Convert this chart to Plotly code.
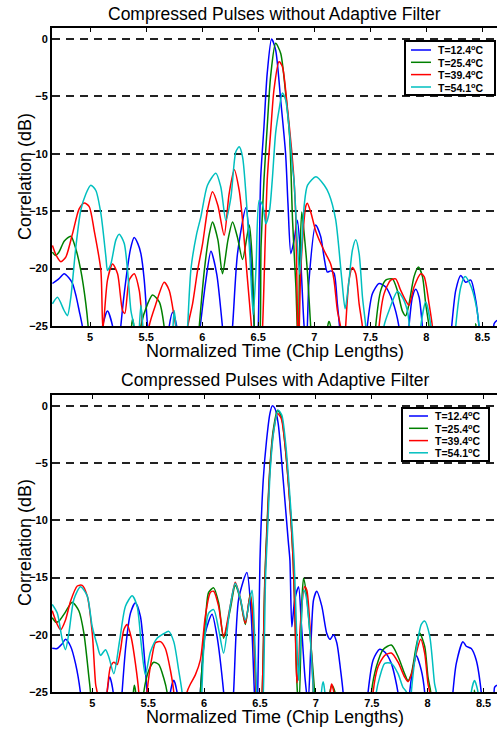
import plotly.graph_objects as go

# legend labels and line colours
labels = ['T=12.4<sup>o</sup>C', 'T=25.4<sup>o</sup>C', 'T=39.4<sup>o</sup>C', 'T=54.1<sup>o</sup>C']
colors = ['#0000ff', '#008000', '#ff0000', '#00bfbf']

x_ticks = [5, 5.5, 6, 6.5, 7, 7.5, 8, 8.5]
y_ticks = [0, -5, -10, -15, -20, -25]

# ---- without adaptive filter (top) ----
top_x_124 = [4.664, 4.72, 4.768, 4.81, 4.843, 4.875, 4.902, 4.932, 4.96,
             5.08, 5.111, 5.155, 5.20, 5.23,
             5.25, 5.274, 5.319, 5.36, 5.393, 5.425, 5.453, 5.483, 5.513, 5.54,
             5.68, 5.706, 5.736, 5.774, 5.80,
             5.95, 5.983, 6.033, 6.078, 6.13, 6.181, 6.21,
             6.24, 6.271, 6.315, 6.39, 6.43, 6.464, 6.48,
             6.50, 6.521, 6.551, 6.58, 6.619, 6.655, 6.70, 6.744, 6.765, 6.791, 6.82, 6.849, 6.875, 6.91, 6.93,
             6.953, 7.012, 7.057, 7.087, 7.116, 7.146, 7.176, 7.206, 7.226, 7.25,
             7.45, 7.473, 7.518, 7.578, 7.637, 7.697, 7.756, 7.78,
             7.82, 7.845, 7.875, 7.905, 7.935, 7.965, 7.99,
             8.20, 8.226, 8.262, 8.307, 8.351, 8.396, 8.441, 8.47, 8.50,
             8.58, 8.604, 8.63]
top_db_124 = [-21.3, -20.9, -20.45, -20.8, -21.3, -22.4, -23.65, -25.1, -28,
              -28, -25.0, -23.7, -25.0, -28,
              -28, -25, -21.0, -18.3, -17.3, -17.8, -18.7, -21.0, -25.1, -28,
              -28, -25, -23.8, -25.1, -28,
              -28, -25, -21.0, -18.5, -20.5, -25.1, -28,
              -28, -25, -18.7, -14.7, -18.5, -25.1, -28,
              -25, -12.3, -7.65, -3.0, 0, -0.96, -5.3, -10, -14.3, -18.7, -17.5, -15.8, -18.5, -25.1, -26.5,
              -21.0, -16.2, -17.2, -19.0, -20.3, -20.2, -20.4, -23.1, -25.1, -28,
              -28, -25, -22.2, -21.3, -21.6, -22.8, -25.1, -28,
              -28, -25, -22.5, -21.8, -22.5, -25.1, -28,
              -28, -25, -21.9, -20.6, -21.2, -21.0, -22.8, -25.1, -28,
              -28, -24.8, -24.5]

top_x_254 = [4.664, 4.69, 4.72, 4.77, 4.828, 4.87, 4.917, 4.962, 4.983, 5.0,
             5.36, 5.37, 5.379, 5.39, 5.40,
             5.43, 5.453, 5.513, 5.557, 5.617, 5.661, 5.68,
             5.95, 5.974, 6.019, 6.063, 6.092, 6.14, 6.181, 6.23, 6.271, 6.315, 6.36, 6.42, 6.445, 6.465, 6.48,
             6.50, 6.525, 6.551, 6.58, 6.61, 6.655, 6.70, 6.744, 6.78, 6.806, 6.836, 6.848, 6.858,
             6.868, 6.888, 6.91, 6.938, 6.968, 6.99,
             7.11, 7.12, 7.131, 7.145, 7.16,
             7.53, 7.548, 7.593, 7.637, 7.697, 7.741, 7.786, 7.816, 7.845, 7.89, 7.929, 7.965, 7.994, 8.024, 8.04,
             8.43, 8.441, 8.455]
top_db_254 = [-18.56, -18.85, -18.6, -17.6, -17.19, -18.2, -20.16, -23.07, -25.1, -28,
              -28, -25, -24.4, -25, -28,
              -28, -25, -23.07, -22.3, -22.9, -25.1, -28,
              -28, -25, -20.16, -17.0, -15.94, -17.5, -20.45, -17.5, -15.94, -17.3, -19.2, -16.2, -19, -25.1, -28,
              -28, -18, -12.3, -7.65, -3.3, -0.38, -1.25, -4.7, -8.5, -15.8, -21.6, -25, -26,
              -20, -15.07, -17, -20.2, -25.1, -28,
              -28, -25, -24.6, -25, -28,
              -28, -25, -21.9, -21.0, -20.9, -21.9, -23.7, -24.1, -23.07, -20.7, -19.87, -20.7, -23.07, -25.1, -28,
              -28, -24.8, -28]

top_x_394 = [4.664, 4.70, 4.739, 4.783, 4.843, 4.902, 4.947, 4.992, 5.036, 5.096, 5.114,
             5.155, 5.2, 5.245, 5.289, 5.31, 5.349, 5.393, 5.438, 5.468, 5.49,
             5.51, 5.527, 5.587, 5.661, 5.706, 5.75, 5.765, 5.78,
             5.85, 5.87, 5.914, 5.959, 6.004, 6.048, 6.092, 6.14, 6.196, 6.24, 6.286, 6.33, 6.36, 6.40, 6.44, 6.46,
             6.52, 6.539, 6.58, 6.61, 6.64, 6.685, 6.715, 6.759, 6.798, 6.819, 6.836, 6.851, 6.86,
             6.88, 6.926, 6.938, 6.968, 7.012, 7.057, 7.101, 7.146, 7.176, 7.206, 7.235, 7.255,
             7.26, 7.28, 7.31, 7.34, 7.37, 7.40, 7.43, 7.45,
             7.56, 7.578, 7.622, 7.682, 7.726, 7.771, 7.816, 7.845, 7.89, 7.95, 7.98, 8.024, 8.054, 8.07]
top_db_394 = [-17.98, -18.9, -19.4, -19.0, -16.96, -14.8, -14.28, -14.6, -16.67, -20.16, -25.3,
              -21.0, -19.6, -20.45, -23.65, -23.9, -21.0, -20.45, -21.9, -25.1, -28,
              -28, -25, -23.07, -21.2, -21.9, -24.2, -25.1, -28,
              -28, -25.1, -23.07, -20.16, -17.8, -14.9, -13.3, -14.5, -17.1, -13.5, -11.4, -13.2, -15.8, -20.5, -25.1, -28,
              -28, -25, -12.3, -8.2, -4.45, -1.98, -2.4, -5.9, -9.7, -12.3, -15.8, -25.1, -27,
              -20, -14.5, -14.3, -15.07, -16.7, -17.8, -18.7, -19.6, -21.0, -23.65, -25.1, -28,
              -28, -25, -21.0, -19.9, -20.45, -23.07, -25.1, -28,
              -28, -25, -22.2, -21.0, -20.9, -21.9, -22.8, -23.2, -21.6, -20.45, -20.7, -23.07, -25.1, -28]

top_x_541 = [4.664, 4.709, 4.768, 4.798, 4.828, 4.873, 4.917, 4.962, 5.006, 5.051, 5.096, 5.141, 5.155, 5.185,
             5.23, 5.26, 5.304, 5.334, 5.364, 5.393, 5.41,
             5.43, 5.44, 5.453, 5.47, 5.48,
             5.73, 5.74, 5.75, 5.765, 5.78,
             5.85, 5.87, 5.90, 5.95, 5.988, 6.047, 6.122, 6.166, 6.211, 6.256, 6.3, 6.33, 6.36, 6.42, 6.455, 6.48,
             6.509, 6.54, 6.568, 6.60, 6.625, 6.655, 6.685, 6.715, 6.744, 6.774, 6.804, 6.819, 6.85, 6.87,
             6.91, 6.94, 7.015, 7.089, 7.131, 7.19, 7.245, 7.275, 7.31, 7.34, 7.37, 7.40, 7.43, 7.46, 7.48,
             7.60, 7.622, 7.667, 7.741, 7.786, 7.83, 7.85, 7.87,
             7.93, 7.95, 7.994, 8.04, 8.06,
             8.24, 8.262, 8.307, 8.345, 8.396, 8.441, 8.47, 8.49]
top_db_541 = [-23.07, -22.5, -23.65, -24.1, -22.5, -18.1, -14.9, -13.5, -12.74, -13.2, -15.2, -19.0, -20.16, -19.6,
              -17.5, -17.0, -17.8, -20.16, -23.65, -25.1, -28,
              -28, -25, -23.2, -25, -28,
              -28, -25, -23.65, -25, -28,
              -28, -25, -20, -17, -15.5, -12.74, -11.7, -12.9, -15.8, -13.8, -9.83, -9.4, -10.27, -18, -24, -20,
              -14.05, -14.5, -16.1, -15, -12.3, -8.2, -6.2, -4.7, -5.3, -7.65, -11.1, -12.3, -18, -20.5,
              -14.5, -12.74, -12.0, -12.74, -13.5, -15.7, -20.9, -23.5, -21.0, -18.4, -17.5, -18.7, -22.5, -25.1, -28,
              -28, -25, -23.65, -22.0, -22.5, -23.65, -25.1, -28,
              -28, -25, -22.9, -25, -28,
              -28, -25, -21.6, -20.7, -21.5, -23.07, -25, -28]

# ---- with adaptive filter (bottom) ----
bot_x_124 = [4.642, 4.687, 4.73, 4.761, 4.806, 4.85, 4.895, 4.92,
             5.11, 5.133, 5.157, 5.187, 5.21,
             5.245, 5.267, 5.30, 5.342, 5.386, 5.431, 5.461, 5.49, 5.51,
             5.68, 5.699, 5.729, 5.758, 5.78,
             5.945, 5.967, 6.011, 6.071, 6.116, 6.175, 6.20,
             6.24, 6.264, 6.309, 6.383, 6.42, 6.45, 6.465,
             6.48, 6.50, 6.529, 6.559, 6.589, 6.61, 6.634, 6.663, 6.708, 6.753, 6.768, 6.785, 6.81, 6.845, 6.87, 6.904, 6.93,
             6.955, 6.979, 7.008, 7.053, 7.098, 7.127, 7.157, 7.187, 7.22, 7.244, 7.26,
             7.445, 7.467, 7.512, 7.571, 7.616, 7.675, 7.735, 7.755,
             7.82, 7.839, 7.884, 7.898, 7.943, 7.973, 7.99,
             8.205, 8.226, 8.256, 8.315, 8.345, 8.39, 8.434, 8.479, 8.50,
             8.58, 8.598, 8.62]
bot_db_124 = [-21.18, -21.2, -20.8, -20.4, -21.0, -22.5, -25.1, -28,
              -28, -25, -23.7, -25, -28,
              -28, -25, -21, -18.1, -17.2, -18.4, -21.3, -25, -28,
              -28, -25, -23.97, -25, -28,
              -28, -25, -19.85, -18.2, -20.15, -25, -28,
              -28, -25, -16.9, -14.56, -18, -25, -28,
              -25, -13.5, -6.5, -3.0, -0.67, 0, -0.23, -1.55, -6.5, -11.8, -13.5, -19.3, -17, -15.8, -19, -23.9, -26,
              -21, -16.96, -16.2, -17.5, -19.9, -20.4, -20.0, -20.7, -23, -25.1, -28,
              -28, -25, -22.2, -21.26, -21.5, -22.5, -25.1, -28,
              -28, -25, -22.2, -21.8, -23.1, -25, -28,
              -28, -25, -22.5, -20.6, -21.0, -21.2, -22.2, -25, -28,
              -28, -24.6, -24.4]

bot_x_254 = [4.642, 4.675, 4.702, 4.761, 4.821, 4.88, 4.925, 4.97, 4.985, 5.0,
             5.36, 5.368, 5.377, 5.388, 5.40,
             5.44, 5.461, 5.506, 5.55, 5.595, 5.64, 5.669, 5.69,
             5.945, 5.967, 6.011, 6.041, 6.086, 6.13, 6.175, 6.234, 6.279, 6.324, 6.369, 6.413, 6.44, 6.465, 6.48,
             6.50, 6.52, 6.544, 6.565, 6.589, 6.619, 6.657, 6.693, 6.723, 6.768, 6.797, 6.815, 6.835, 6.85,
             6.875, 6.89, 6.916, 6.955, 6.988, 7.0,
             7.11, 7.125, 7.145, 7.17, 7.18,
             7.48, 7.497, 7.541, 7.60, 7.675, 7.735, 7.794, 7.824, 7.854, 7.898, 7.928, 7.973, 8.003, 8.027, 8.04,
             8.40, 8.419, 8.435]
bot_db_254 = [-18.5, -18.9, -18.8, -18.0, -17.15, -17.9, -19.85, -23.7, -25.1, -28,
              -28, -25, -24.4, -25, -28,
              -28, -25, -23.1, -22.4, -22.6, -23.8, -25, -28,
              -28, -25, -19, -16.3, -15.9, -17.2, -20.3, -17.8, -15.7, -16.9, -19.1, -16.4, -19, -25, -28,
              -28, -25, -15, -10, -5.35, -2.1, -0.38, -0.97, -3.3, -8.6, -13.5, -19, -25, -26,
              -16.96, -15.07, -16.5, -20.8, -25, -28,
              -28, -25, -24.4, -25, -28,
              -28, -25, -22.8, -21.3, -20.9, -21.9, -23.4, -24.0, -23.4, -21.0, -19.85, -21.0, -23.7, -25, -28,
              -28, -24.85, -28]

bot_x_394 = [4.642, 4.687, 4.717, 4.761, 4.806, 4.866, 4.91, 4.955, 5.0, 5.03, 5.045, 5.06,
             5.115, 5.133, 5.163, 5.193, 5.223, 5.25, 5.282, 5.312, 5.35, 5.386, 5.416, 5.43,
             5.47, 5.49, 5.535, 5.565, 5.61, 5.654, 5.699, 5.729, 5.745,
             5.83, 5.848, 5.878, 5.922, 5.967, 6.011, 6.056, 6.086, 6.13, 6.175, 6.234, 6.279, 6.324, 6.369, 6.413, 6.44, 6.465, 6.48,
             6.50, 6.52, 6.545, 6.565, 6.589, 6.619, 6.657, 6.69, 6.723, 6.768, 6.797, 6.815, 6.83, 6.845,
             6.86, 6.899, 6.919, 6.949, 6.975, 6.99,
             7.12, 7.13, 7.14, 7.16, 7.17,
             7.495, 7.512, 7.556, 7.616, 7.675, 7.735, 7.794, 7.824, 7.854, 7.898, 7.937, 7.973, 8.003, 8.018, 8.03]
bot_db_394 = [-17.9, -19.1, -19.56, -18.7, -17.06, -15.74, -15.68, -16.6, -19.85, -24.3, -25.1, -28,
              -28, -25, -22.8, -22.4, -22.6, -21.5, -19.56, -19.1, -20.3, -22.5, -25, -28,
              -28, -25, -21.9, -20.7, -20.6, -21.2, -23.1, -25, -28,
              -28, -25, -24.3, -23.5, -22.2, -18.4, -16.3, -16.2, -17.5, -20.15, -17.5, -15.4, -16.8, -19.0, -16.5, -19, -25, -28,
              -28, -25, -15, -10.5, -5.6, -2.4, -0.67, -1.1, -3.3, -8.6, -13.5, -19, -24.2, -23,
              -19.3, -15.8, -16.1, -19.6, -24.5, -28,
              -28, -25, -24.3, -25, -28,
              -28, -25, -22.8, -21.8, -21.6, -22.4, -23.7, -24.1, -23.5, -21.6, -20.4, -21.6, -24.3, -25, -28]

bot_x_541 = [4.642, 4.687, 4.732, 4.761, 4.791, 4.836, 4.895, 4.955, 5.0, 5.044, 5.074, 5.119, 5.15, 5.193,
             5.245, 5.297, 5.357, 5.401, 5.44, 5.475, 5.52, 5.58, 5.64, 5.684, 5.729, 5.773, 5.803, 5.82,
             5.96, 5.98, 5.997, 6.041, 6.086, 6.13, 6.175, 6.234, 6.279, 6.324, 6.369, 6.429, 6.45, 6.47, 6.485,
             6.51, 6.53, 6.55, 6.57, 6.592, 6.625, 6.663, 6.695, 6.73, 6.775, 6.805, 6.825, 6.845,
             6.865, 6.89, 6.91, 6.949, 6.975, 6.99,
             7.04, 7.05, 7.065, 7.08, 7.09,
             7.525, 7.541, 7.571, 7.616, 7.675, 7.735, 7.779, 7.81, 7.83,
             7.835, 7.854, 7.898, 7.943, 7.973, 8.018, 8.062, 8.077, 8.09,
             8.375, 8.39, 8.419, 8.45, 8.46]
bot_db_541 = [-17.35, -18.1, -20.44, -21.3, -19.85, -16.9, -15.8, -16.6, -19.3, -20.9, -21.8, -21.3, -22, -23.4,
              -20.5, -17.5, -16.6, -17.5, -21, -23.5, -21.5, -20.3, -19.9, -19.7, -20.6, -23.1, -25, -28,
              -28, -25, -21.3, -18.1, -17.8, -19.5, -21.6, -17.5, -15.5, -16.8, -18.7, -16.1, -19.5, -25, -28,
              -28, -25, -15, -10.5, -5.6, -2.1, -0.38, -0.8, -3.3, -8.9, -13.5, -19, -24,
              -20, -16.1, -16.5, -20.15, -24.5, -28,
              -28, -25, -24.1, -25, -28,
              -28, -25, -23.7, -22.5, -22.5, -23.4, -24.6, -25, -28,
              -28, -25, -21.3, -19.1, -18.8, -20.1, -24.3, -25, -28,
              -28, -25, -24.0, -25, -28]

top_x = [top_x_124, top_x_254, top_x_394, top_x_541]
top_db = [top_db_124, top_db_254, top_db_394, top_db_541]
bot_x = [bot_x_124, bot_x_254, bot_x_394, bot_x_541]
bot_db = [bot_db_124, bot_db_254, bot_db_394, bot_db_541]

fig = go.Figure()
for i in range(4):
    fig.add_trace(go.Scatter(x=top_x[i], y=top_db[i], mode='lines', name=labels[i], showlegend=False,
                             line=dict(color=colors[i], width=1.5, shape='spline', smoothing=0.7),
                             xaxis='x', yaxis='y'))
for i in range(4):
    fig.add_trace(go.Scatter(x=bot_x[i], y=bot_db[i], mode='lines', name=labels[i], showlegend=False,
                             line=dict(color=colors[i], width=1.5, shape='spline', smoothing=0.7),
                             xaxis='x2', yaxis='y2'))

tickfont = dict(family='Arial', size=11, color='black', weight='bold')
xax = dict(tickvals=x_ticks, ticktext=[str(v) for v in x_ticks], ticks='inside', ticklen=4,
           tickcolor='black', showline=True, linecolor='black', linewidth=2, mirror='ticks',
           showgrid=False, zeroline=False, tickfont=tickfont, automargin=False)
yax = dict(tickvals=y_ticks, ticks='', showline=True, linecolor='black', linewidth=2,
           showgrid=True, gridcolor='#222222', gridwidth=1.5, griddash='8px,6px',
           zeroline=False, tickfont=tickfont, automargin=False)

# plot area in pixels: x 52..497, y 28..692 (height 664)
def px(x):
    return (x - 52) / 445.0

def py(y):
    return (692 - y) / 664.0

shapes = []
annotations = []

# small boxed legends drawn like the original (compact rows)
for box, rows, x_line, x_text in [((405, 41, 495, 95), [50, 62.3, 74.6, 87], (411, 431), 436),
                                   ((402, 408, 489, 461), [416, 428.3, 440.6, 452.8], (409, 428), 433)]:
    shapes.append(dict(type='rect', xref='paper', yref='paper', x0=px(box[0]), x1=px(box[2]),
                       y0=py(box[3]), y1=py(box[1]), line=dict(color='black', width=2),
                       fillcolor='white', layer='above'))
    for i in range(4):
        shapes.append(dict(type='line', xref='paper', yref='paper', x0=px(x_line[0]), x1=px(x_line[1]),
                           y0=py(rows[i]), y1=py(rows[i]), line=dict(color=colors[i], width=1.5),
                           layer='above'))
        annotations.append(dict(text=labels[i], x=px(x_text), y=py(rows[i]), xref='paper', yref='paper',
                                xanchor='left', yanchor='middle', showarrow=False,
                                font=dict(size=10.5, weight='bold')))

annotations += [
    dict(text='Compressed Pulses without Adaptive Filter', x=0.5, y=py(14), xref='paper', yref='paper',
         showarrow=False, yanchor='middle', font=dict(size=17.5)),
    dict(text='Compressed Pulses with Adaptive Filter', x=0.5, y=py(380), xref='paper', yref='paper',
         showarrow=False, yanchor='middle', font=dict(size=17.5)),
    dict(text='Normalized Time (Chip Lengths)', x=0.5, y=py(351), xref='paper', yref='paper',
         showarrow=False, yanchor='middle', font=dict(size=18)),
    dict(text='Normalized Time (Chip Lengths)', x=0.5, y=py(717), xref='paper', yref='paper',
         showarrow=False, yanchor='middle', font=dict(size=18)),
    dict(text='Correlation (dB)', x=px(25), y=py(177), xref='paper', yref='paper', textangle=-90,
         showarrow=False, xanchor='center', yanchor='middle', font=dict(size=18)),
    dict(text='Correlation (dB)', x=px(25), y=py(543), xref='paper', yref='paper', textangle=-90,
         showarrow=False, xanchor='center', yanchor='middle', font=dict(size=18)),
]

fig.update_layout(
    width=498, height=730,
    margin=dict(l=52, r=1, t=28, b=38, autoexpand=False),
    paper_bgcolor='white', plot_bgcolor='white',
    font=dict(family='Arial', color='black'),
    xaxis=dict(xax, domain=[0, 1], anchor='y', range=[4.66, 8.63]),
    yaxis=dict(yax, domain=[py(326), 1], anchor='x', range=[-25, 0.95]),
    xaxis2=dict(xax, domain=[0, 1], anchor='y2', range=[4.64, 8.62]),
    yaxis2=dict(yax, domain=[0, py(395)], anchor='x2', range=[-25, 0.95]),
    shapes=shapes,
    annotations=annotations,
)

# the page body keeps its default 8px margin otherwise, which shifts the figure
fig.write_html('out.html', config={'displayModeBar': False},
               post_script="document.body.style.margin='0px';")
